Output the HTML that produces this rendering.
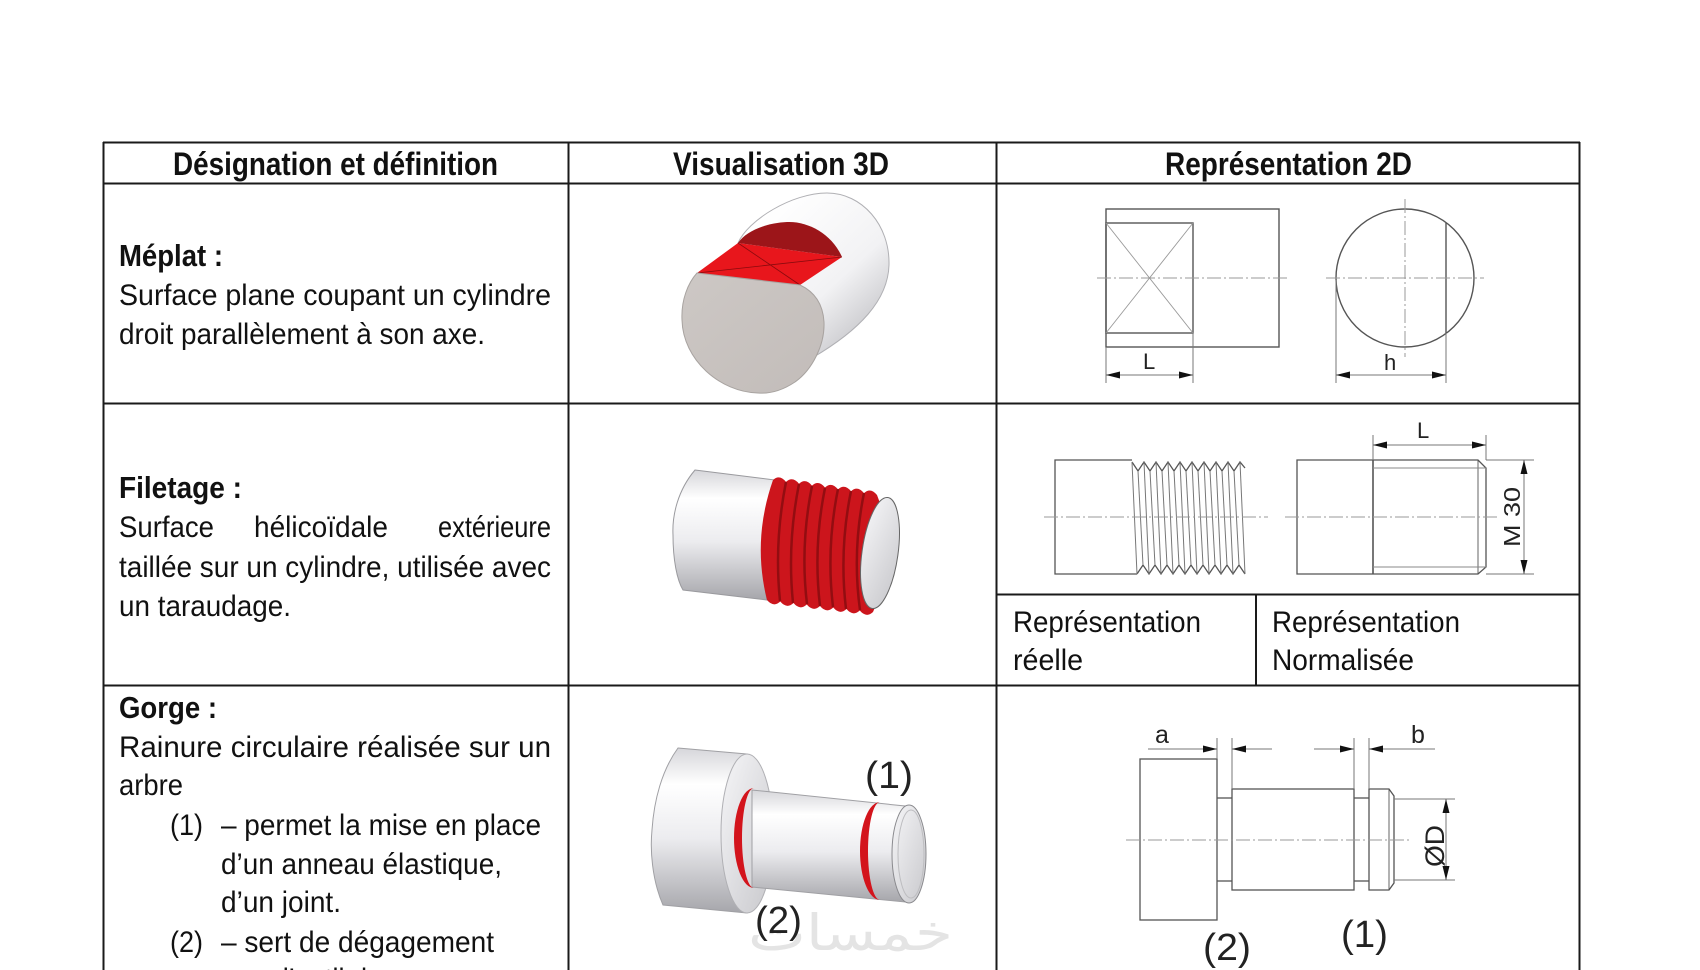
<!DOCTYPE html>
<html><head><meta charset="utf-8"><style>
html,body{margin:0;padding:0;background:#fff;}
svg{display:block;}
text{font-family:"Liberation Sans Narrow","Liberation Sans",sans-serif;fill:#111;}
.b{font-weight:bold;}
.d{font-family:"Liberation Sans",sans-serif;fill:#222;}
</style></head><body>
<svg width="1700" height="970" viewBox="0 0 1700 970" xmlns="http://www.w3.org/2000/svg">
<defs>
<linearGradient id="gv" x1="0" y1="0" x2="0" y2="1">
<stop offset="0" stop-color="#d6d6da"/><stop offset="0.22" stop-color="#ffffff"/><stop offset="0.55" stop-color="#ececef"/><stop offset="1" stop-color="#a6a6ab"/>
</linearGradient>
<linearGradient id="gb1" gradientUnits="userSpaceOnUse" x1="770" y1="210" x2="880" y2="330">
<stop offset="0" stop-color="#ffffff"/><stop offset="0.6" stop-color="#f2f2f4"/><stop offset="1" stop-color="#c4c4c8"/>
</linearGradient>
<linearGradient id="gface" x1="0" y1="0" x2="1" y2="1">
<stop offset="0" stop-color="#f6f6f8"/><stop offset="1" stop-color="#c8c8cc"/>
</linearGradient>
<linearGradient id="gfront" x1="0" y1="0" x2="1" y2="1">
<stop offset="0" stop-color="#cdc8c5"/><stop offset="1" stop-color="#c2bcb9"/>
</linearGradient>
</defs>

<!-- TABLE LINES -->
<g stroke="#1a1a1a" stroke-width="2" fill="none">
<line x1="103" y1="142.5" x2="1580" y2="142.5"/>
<line x1="103" y1="183.5" x2="1580" y2="183.5"/>
<line x1="103" y1="403.5" x2="1580" y2="403.5"/>
<line x1="103" y1="685.5" x2="1580" y2="685.5"/>
<line x1="103.5" y1="142" x2="103.5" y2="970"/>
<line x1="568.5" y1="142" x2="568.5" y2="970"/>
<line x1="996.5" y1="142" x2="996.5" y2="970"/>
<line x1="1579.5" y1="142" x2="1579.5" y2="970"/>
<line x1="996" y1="594.5" x2="1580" y2="594.5"/>
<line x1="1256" y1="594" x2="1256" y2="685"/>
</g>

<!-- HEADERS -->
<text class="b" x="173" y="175" font-size="32" textLength="325" lengthAdjust="spacingAndGlyphs">Désignation et définition</text>
<text class="b" x="673" y="175" font-size="32" textLength="216" lengthAdjust="spacingAndGlyphs">Visualisation 3D</text>
<text class="b" x="1165" y="175" font-size="32" textLength="247" lengthAdjust="spacingAndGlyphs">Représentation 2D</text>

<!-- ROW 1 TEXT -->
<text class="b" x="119" y="266" font-size="31" textLength="104" lengthAdjust="spacingAndGlyphs">Méplat :</text>
<text x="119" y="305" font-size="30" textLength="432" lengthAdjust="spacingAndGlyphs">Surface plane coupant un cylindre</text>
<text x="119" y="344" font-size="30" textLength="366" lengthAdjust="spacingAndGlyphs">droit parallèlement à son axe.</text>

<!-- ROW 2 TEXT -->
<text class="b" x="119" y="498" font-size="31" textLength="123" lengthAdjust="spacingAndGlyphs">Filetage :</text>
<text x="119" y="537" font-size="30" textLength="95" lengthAdjust="spacingAndGlyphs">Surface</text>
<text x="254" y="537" font-size="30" textLength="134" lengthAdjust="spacingAndGlyphs">hélicoïdale</text>
<text x="438" y="537" font-size="30" textLength="113" lengthAdjust="spacingAndGlyphs">extérieure</text>
<text x="119" y="577" font-size="30" textLength="432" lengthAdjust="spacingAndGlyphs">taillée sur un cylindre, utilisée avec</text>
<text x="119" y="616" font-size="30" textLength="172" lengthAdjust="spacingAndGlyphs">un taraudage.</text>

<!-- ROW 3 TEXT -->
<text class="b" x="119" y="718" font-size="31" textLength="98" lengthAdjust="spacingAndGlyphs">Gorge :</text>
<text x="119" y="757" font-size="30" textLength="432" lengthAdjust="spacingAndGlyphs">Rainure circulaire réalisée sur un</text>
<text x="119" y="795" font-size="30" textLength="64" lengthAdjust="spacingAndGlyphs">arbre</text>
<text x="170" y="835" font-size="30" textLength="33" lengthAdjust="spacingAndGlyphs">(1)</text>
<text x="221" y="835" font-size="30" textLength="320" lengthAdjust="spacingAndGlyphs">– permet la mise en place</text>
<text x="221" y="874" font-size="30" textLength="281" lengthAdjust="spacingAndGlyphs">d’un anneau élastique,</text>
<text x="221" y="912" font-size="30" textLength="120" lengthAdjust="spacingAndGlyphs">d’un joint.</text>
<text x="170" y="952" font-size="30" textLength="33" lengthAdjust="spacingAndGlyphs">(2)</text>
<text x="221" y="952" font-size="30" textLength="273" lengthAdjust="spacingAndGlyphs">– sert de dégagement</text>
<text x="221" y="989" font-size="30" textLength="250" lengthAdjust="spacingAndGlyphs">pour l’outil de coupe.</text>

<!-- ROW 2 sub labels -->
<text x="1013" y="632" font-size="30" textLength="188" lengthAdjust="spacingAndGlyphs">Représentation</text>
<text x="1013" y="670" font-size="30" textLength="70" lengthAdjust="spacingAndGlyphs">réelle</text>
<text x="1272" y="632" font-size="30" textLength="188" lengthAdjust="spacingAndGlyphs">Représentation</text>
<text x="1272" y="670" font-size="30" textLength="142" lengthAdjust="spacingAndGlyphs">Normalisée</text>

<!-- ROW 1 3D : méplat -->
<g>
<path d="M738,243 C748,220 792,193 827,193 C862,193 890,225 889,265 C888,300 860,330 812,358 L800,285 Z" fill="url(#gb1)" stroke="#b0b0b4" stroke-width="1"/>
<path d="M697,273 L800,285 L842,257 L738,243 Z" fill="#e8161c"/>
<path d="M738,243 L842,257 C832,234 808,221 787,222 C766,223 746,231 738,243 Z" fill="#9c1519"/>
<line x1="697" y1="273" x2="842" y2="257" stroke="#8a0a0e" stroke-width="0.8"/>
<line x1="738" y1="243" x2="800" y2="285" stroke="#8a0a0e" stroke-width="0.8"/>
<path d="M697,273 L800,285 C815,292 823,305 824,322 C825,345 812,370 795,382 C783,390 770,394 758,393 C720,392 683,360 682,320 C681,300 688,283 697,273 Z" fill="url(#gfront)" stroke="#a8a3a0" stroke-width="1"/>
</g>

<!-- ROW 2 3D : filetage -->
<g>
<path d="M695,470 L775,480 Q755,540 767,600 L683,590 C677,580 673,560 673,535 C672,515 678,490 695,470 Z" fill="url(#gv)" stroke="#9a9a9e" stroke-width="1"/>
<path d="M773,480 Q779.5,474 786,481.9 Q792.5,475.8 799,483.7 Q805.5,477.7 812,485.6 Q818.5,479.6 825,487.5 Q831.5,481.4 838,489.4 Q844.5,483.3 851,491.2 Q857.5,485.2 864,493.1 Q870.5,487 877,495 Q900,553 873,612 Q866.4,618.3 859.75,610.5 Q853.1,616.8 846.5,609 Q839.9,615.3 833.25,607.5 Q826.6,613.8 820,606 Q813.4,612.3 806.75,604.5 Q800.1,610.8 793.5,603 Q786.9,609.3 780.25,601.5 Q773.6,607.8 767,600 Q752,540 773,480 Z" fill="#cc151c"/>
<g stroke="#8a0c10" stroke-width="2.5" fill="none" opacity="0.85">
<path d="M786,482 Q774,542 780,601"/>
<path d="M799,484 Q787,544 793,603"/>
<path d="M812,486 Q800,546 807,604"/>
<path d="M825,488 Q813,547 820,606"/>
<path d="M838,489 Q826,548 833,607"/>
<path d="M851,491 Q839,550 846,609"/>
<path d="M864,493 Q852,552 860,610"/>
</g>
<ellipse cx="880" cy="553" rx="18" ry="56" transform="rotate(8 880 553)" fill="url(#gface)" stroke="#666" stroke-width="1"/>
</g>

<!-- ROW 3 3D : gorge -->
<g>
<path d="M678,748 L747,754 A26,80 0 0 1 747,913 L663,905 C652,880 650,850 652,830 C654,800 662,770 678,748 Z" fill="url(#gv)" stroke="#a0a0a4" stroke-width="1"/>
<ellipse cx="747" cy="833.5" rx="26" ry="79.5" fill="url(#gface)" stroke="#b0b0b4" stroke-width="1"/>
<path d="M752,790 L905,806 L905,902 L752,887 Z" fill="url(#gv)" stroke="#a0a0a4" stroke-width="1"/>
<path d="M754,788 A20,50 0 0 0 754,888 A12,50 0 0 1 754,788 Z" fill="#d3141c"/>
<path d="M880,802 A20,49 0 0 0 880,900 A12,49 0 0 1 880,802 Z" fill="#d3141c"/>
<ellipse cx="909" cy="854" rx="17" ry="49" fill="url(#gface)" stroke="#8a8a8e" stroke-width="1"/>
<ellipse cx="911" cy="854" rx="13" ry="44" fill="none" stroke="#bdbdc0" stroke-width="1"/>
<text x="748" y="950" font-size="50" fill="#e4e4e4" style="fill:#e4e4e4;font-family:'DejaVu Sans',sans-serif" textLength="205" lengthAdjust="spacingAndGlyphs">خمسات</text>
<text class="d" x="865" y="788" font-size="38" textLength="48" lengthAdjust="spacingAndGlyphs">(1)</text>
<text class="d" x="755" y="933" font-size="38" textLength="47" lengthAdjust="spacingAndGlyphs">(2)</text>
</g>

<!-- ROW 1 2D -->
<g stroke="#555" stroke-width="1.4" fill="none">
<rect x="1106" y="209" width="173" height="138"/>
<rect x="1106" y="223" width="87" height="110"/>
<circle cx="1405" cy="278" r="69"/>
<line x1="1446" y1="223" x2="1446" y2="333"/>
</g>
<g stroke="#999" stroke-width="0.9" fill="none">
<line x1="1106" y1="223" x2="1193" y2="333"/>
<line x1="1193" y1="223" x2="1106" y2="333"/>
</g>
<g stroke="#999" stroke-width="1" stroke-dasharray="14,3,2,3" fill="none">
<line x1="1097" y1="278" x2="1290" y2="278"/>
<line x1="1326" y1="278" x2="1484" y2="278"/>
<line x1="1405" y1="199" x2="1405" y2="357"/>
</g>
<g stroke="#777" stroke-width="1" fill="none">
<line x1="1106" y1="347" x2="1106" y2="383"/>
<line x1="1193" y1="333" x2="1193" y2="383"/>
<line x1="1106" y1="375" x2="1193" y2="375"/>
<line x1="1336" y1="280" x2="1336" y2="383"/>
<line x1="1446" y1="333" x2="1446" y2="383"/>
<line x1="1336" y1="375" x2="1446" y2="375"/>
</g>
<g fill="#111">
<polygon points="1106,375 1120,371.5 1120,378.5"/>
<polygon points="1193,375 1179,371.5 1179,378.5"/>
<polygon points="1336,375 1350,371.5 1350,378.5"/>
<polygon points="1446,375 1432,371.5 1432,378.5"/>
</g>
<text class="d" x="1143" y="369" font-size="22">L</text>
<text class="d" x="1384" y="370" font-size="22">h</text>

<!-- ROW 2 2D -->
<g stroke="#555" stroke-width="1.3" fill="none">
<polyline points="1132,460 1055,460 1055,574 1137,574"/>
<path d="M1132,462 L1138,471 L1144,462 L1150,471 L1156,462 L1162,471 L1168,462 L1174,471 L1180,462 L1186,471 L1192,462 L1198,471 L1204,462 L1210,471 L1216,462 L1222,471 L1228,462 L1234,471 L1240,462 L1245,468"/>
<path d="M1137,574 L1143,565 L1149,574 L1155,565 L1161,574 L1167,565 L1173,574 L1179,565 L1185,574 L1191,565 L1197,574 L1203,565 L1209,574 L1215,565 L1221,574 L1227,565 L1233,574 L1239,565 L1245,574"/>
</g>
<g stroke="#777" stroke-width="1" fill="none">
<line x1="1132" y1="462" x2="1137" y2="574"/>
<line x1="1144" y1="462" x2="1149" y2="574"/>
<line x1="1156" y1="462" x2="1161" y2="574"/>
<line x1="1168" y1="462" x2="1173" y2="574"/>
<line x1="1180" y1="462" x2="1185" y2="574"/>
<line x1="1192" y1="462" x2="1197" y2="574"/>
<line x1="1204" y1="462" x2="1209" y2="574"/>
<line x1="1216" y1="462" x2="1221" y2="574"/>
<line x1="1228" y1="462" x2="1233" y2="574"/>
<line x1="1240" y1="462" x2="1245" y2="574"/>
<line x1="1138" y1="471" x2="1143" y2="565"/>
<line x1="1150" y1="471" x2="1155" y2="565"/>
<line x1="1162" y1="471" x2="1167" y2="565"/>
<line x1="1174" y1="471" x2="1179" y2="565"/>
<line x1="1186" y1="471" x2="1191" y2="565"/>
<line x1="1198" y1="471" x2="1203" y2="565"/>
<line x1="1210" y1="471" x2="1215" y2="565"/>
<line x1="1222" y1="471" x2="1227" y2="565"/>
<line x1="1234" y1="471" x2="1239" y2="565"/>
</g>
<g stroke="#555" stroke-width="1.3" fill="none">
<path d="M1297,460 L1478,460 L1486,468 L1486,567 L1478,574 L1297,574 Z"/>
<line x1="1373" y1="460" x2="1373" y2="574" stroke-width="1.6"/>
<line x1="1478" y1="460" x2="1478" y2="574" stroke-width="0.9"/>
</g>
<g stroke="#888" stroke-width="0.9" fill="none">
<line x1="1373" y1="468" x2="1486" y2="468"/>
<line x1="1373" y1="567" x2="1486" y2="567"/>
</g>
<g stroke="#999" stroke-width="1" stroke-dasharray="14,3,2,3" fill="none">
<line x1="1044" y1="517" x2="1268" y2="517"/>
<line x1="1285" y1="517" x2="1497" y2="517"/>
</g>
<g stroke="#777" stroke-width="1" fill="none">
<line x1="1373" y1="460" x2="1373" y2="435"/>
<line x1="1486" y1="460" x2="1486" y2="435"/>
<line x1="1373" y1="445" x2="1486" y2="445"/>
<line x1="1486" y1="460" x2="1534" y2="460"/>
<line x1="1486" y1="574" x2="1534" y2="574"/>
<line x1="1524" y1="460" x2="1524" y2="574"/>
</g>
<g fill="#111">
<polygon points="1373,445 1387,441.5 1387,448.5"/>
<polygon points="1486,445 1472,441.5 1472,448.5"/>
<polygon points="1524,460 1520.5,474 1527.5,474"/>
<polygon points="1524,574 1520.5,560 1527.5,560"/>
</g>
<text class="d" x="1417" y="438" font-size="22">L</text>
<text class="d" transform="translate(1520,547) rotate(-90)" x="0" y="0" font-size="23" textLength="60" lengthAdjust="spacingAndGlyphs">M 30</text>

<!-- ROW 3 2D -->
<g stroke="#555" stroke-width="1.3" fill="none">
<rect x="1140" y="759" width="77" height="161"/>
<line x1="1217" y1="798" x2="1232" y2="798"/>
<line x1="1217" y1="881" x2="1232" y2="881"/>
<rect x="1232" y="789" width="122" height="101"/>
<line x1="1354" y1="798" x2="1369" y2="798"/>
<line x1="1354" y1="881" x2="1369" y2="881"/>
<path d="M1369,789 L1389,789 L1394,796 L1394,883 L1389,890 L1369,890 Z"/>
<line x1="1389" y1="789" x2="1389" y2="890" stroke-width="0.9"/>
</g>
<g stroke="#999" stroke-width="1" stroke-dasharray="14,3,2,3" fill="none">
<line x1="1126" y1="840" x2="1410" y2="840"/>
</g>
<g stroke="#777" stroke-width="1" fill="none">
<line x1="1217" y1="759" x2="1217" y2="738"/>
<line x1="1232" y1="789" x2="1232" y2="738"/>
<line x1="1148" y1="749" x2="1217" y2="749"/>
<line x1="1232" y1="749" x2="1272" y2="749"/>
<line x1="1354" y1="789" x2="1354" y2="738"/>
<line x1="1369" y1="789" x2="1369" y2="738"/>
<line x1="1314" y1="749" x2="1354" y2="749"/>
<line x1="1369" y1="749" x2="1435" y2="749"/>
<line x1="1394" y1="799" x2="1455" y2="799"/>
<line x1="1394" y1="880" x2="1455" y2="880"/>
<line x1="1446" y1="799" x2="1446" y2="880"/>
</g>
<g fill="#111">
<polygon points="1217,749 1203,745.5 1203,752.5"/>
<polygon points="1232,749 1246,745.5 1246,752.5"/>
<polygon points="1354,749 1340,745.5 1340,752.5"/>
<polygon points="1369,749 1383,745.5 1383,752.5"/>
<polygon points="1446,799 1442.5,813 1449.5,813"/>
<polygon points="1446,880 1442.5,866 1449.5,866"/>
</g>
<text class="d" x="1155" y="743" font-size="25">a</text>
<text class="d" x="1411" y="743" font-size="25">b</text>
<text class="d" transform="translate(1444,867) rotate(-90)" x="0" y="0" font-size="27" textLength="42" lengthAdjust="spacingAndGlyphs">ØD</text>
<text class="d" x="1203" y="960" font-size="38" textLength="48" lengthAdjust="spacingAndGlyphs">(2)</text>
<text class="d" x="1341" y="947" font-size="38" textLength="47" lengthAdjust="spacingAndGlyphs">(1)</text>
</svg>
</body></html>
